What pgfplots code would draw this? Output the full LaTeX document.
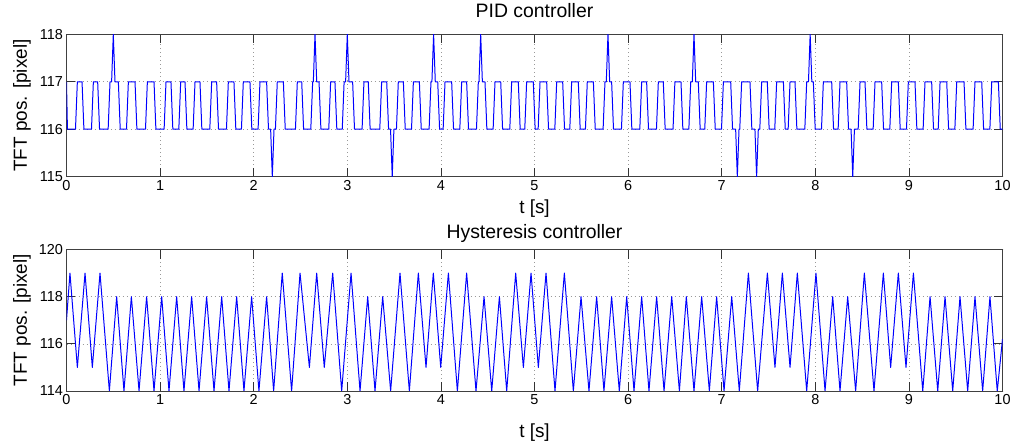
\documentclass[border=0pt]{standalone}
\usepackage{fontspec}
\setmainfont{Liberation Sans}
\usepackage{pgfplots}
\pgfplotsset{compat=1.18}
\begin{document}
\begin{tikzpicture}
\path[use as bounding box] (0,0) rectangle (1024bp,444bp);
\pgfplotsset{
  matlab/.style={
    scale only axis, width=936bp,
    xmin=0, xmax=10, xtick={0,1,...,10},
    no markers,
    grid=major,
    major grid style={gray!80, line width=0.6pt, dash pattern=on 1bp off 3bp},
    tick align=inside, major tick length=9bp,
    axis line style={black!75, line width=0.7pt},
    tick style={black!80, line width=0.7pt},
    ticklabel style={font=\fontsize{14.5}{14.5}\selectfont},
    /pgf/number format/assume math mode=true,
    label style={font=\fontsize{19}{19}\selectfont},
    title style={font=\fontsize{19.5}{19.5}\selectfont, at={(0.5,1)}, anchor=south},
    xlabel={t [s]}, ylabel={TFT pos. [pixel]},
    ylabel style={at={(axis description cs:-0.0475,0.5)}, anchor=center},
  }
}
\begin{axis}[matlab, at={(66.5bp,267.3bp)}, anchor=south west, height=142.4bp,
  ymin=115, ymax=118, ytick={115,116,117,118}, title={PID controller},
  title style={yshift=7bp},
  xlabel style={at={(axis description cs:0.5,0)}, anchor=base, yshift=-37bp}]
\addplot+[mark=none, blue, line width=1pt, line join=round] coordinates {
(0,117)(0.01,116)
(0.096,116)(0.116,117)(0.166,117)(0.186,116)
(0.267,116)(0.287,117)(0.333,117)(0.353,116)
(0.445,116)(0.465,117)(0.482,117)(0.500,118)(0.518,117)(0.554,117)(0.574,116)
(0.641,116)(0.661,117)(0.732,117)(0.752,116)
(0.844,116)(0.864,117)(0.935,117)(0.955,116)
(1.043,116)(1.063,117)(1.116,117)(1.136,116)
(1.200,116)(1.220,117)(1.266,117)(1.286,116)
(1.353,116)(1.373,117)(1.426,117)(1.446,116)
(1.531,116)(1.551,117)(1.604,117)(1.624,116)
(1.709,116)(1.729,117)(1.789,117)(1.809,116)
(1.869,116)(1.889,117)(1.960,117)(1.980,116)
(2.047,116)(2.067,117)(2.138,117)(2.158,116)
(2.181,116)(2.199,115)(2.217,116)
(2.232,116)(2.252,117)(2.317,117)(2.337,116)
(2.446,116)(2.466,117)(2.513,117)(2.533,116)
(2.610,116)(2.630,117)(2.637,117)(2.655,118)(2.673,117)(2.698,117)(2.718,116)
(2.802,116)(2.822,117)(2.868,117)(2.888,116)
(2.946,116)(2.966,117)(2.982,117)(3.000,118)(3.018,117)(3.057,117)(3.077,116)
(3.158,116)(3.178,117)(3.224,117)(3.244,116)
(3.347,116)(3.367,117)(3.421,117)(3.441,116)
(3.462,116)(3.480,115)(3.498,116)
(3.525,116)(3.545,117)(3.599,117)(3.619,116)
(3.686,116)(3.706,117)(3.770,117)(3.790,116)
(3.874,116)(3.894,117)(3.904,117)(3.922,118)(3.940,117)(3.966,117)(3.986,116)
(4.024,116)(4.044,117)(4.115,117)(4.135,116)
(4.202,116)(4.222,117)(4.275,117)(4.295,116)
(4.380,116)(4.400,117)(4.407,117)(4.425,118)(4.443,117)(4.471,117)(4.491,116)
(4.558,116)(4.578,117)(4.639,117)(4.659,116)
(4.736,116)(4.756,117)(4.827,117)(4.847,116)
(4.896,116)(4.916,117)(4.987,117)(5.007,116)
(5.039,116)(5.059,117)(5.130,117)(5.150,116)
(5.217,116)(5.237,117)(5.301,117)(5.321,116)
(5.377,116)(5.397,117)(5.468,117)(5.488,116)
(5.544,116)(5.564,117)(5.629,117)(5.649,116)
(5.733,116)(5.753,117)(5.767,117)(5.785,118)(5.803,117)(5.824,117)(5.844,116)
(5.929,116)(5.949,117)(6.020,117)(6.040,116)
(6.125,116)(6.145,117)(6.198,117)(6.218,116)
(6.303,116)(6.323,117)(6.376,117)(6.396,116)
(6.480,116)(6.500,117)(6.565,117)(6.585,116)
(6.649,116)(6.669,117)(6.686,117)(6.704,118)(6.722,117)(6.750,117)(6.770,116)
(6.819,116)(6.839,117)(6.911,117)(6.931,116)
(6.998,116)(7.018,117)(7.096,117)(7.116,116)
(7.149,116)(7.167,115)(7.185,116)
(7.193,116)(7.213,117)(7.302,117)(7.322,116)
(7.355,116)(7.373,115)(7.391,116)
(7.407,116)(7.427,117)(7.487,117)(7.507,116)
(7.567,116)(7.587,117)(7.659,117)(7.679,116)
(7.710,116)(7.730,117)(7.783,117)(7.803,116)
(7.888,116)(7.908,117)(7.927,117)(7.945,118)(7.963,117)(7.979,117)(7.999,116)
(8.066,116)(8.086,117)(8.175,117)(8.195,116)
(8.244,116)(8.264,117)(8.335,117)(8.355,116)
(8.382,116)(8.400,115)(8.418,116)
(8.458,116)(8.478,117)(8.531,117)(8.551,116)
(8.618,116)(8.638,117)(8.709,117)(8.729,116)
(8.796,116)(8.816,117)(8.887,117)(8.907,116)
(8.974,116)(8.994,117)(9.065,117)(9.085,116)
(9.152,116)(9.172,117)(9.243,117)(9.263,116)
(9.313,116)(9.333,117)(9.404,117)(9.424,116)
(9.491,116)(9.511,117)(9.589,117)(9.609,116)
(9.686,116)(9.706,117)(9.778,117)(9.798,116)
(9.865,116)(9.885,117)(9.956,117)(9.976,116)
(10,116)
};
\end{axis}
\begin{axis}[matlab, at={(66.5bp,53bp)}, anchor=south west, height=141.5bp,
  ymin=114, ymax=120, ytick={114,116,118,120}, title={Hysteresis controller},
  title style={yshift=-3bp},
  xlabel style={at={(axis description cs:0.5,0)}, anchor=base, yshift=-46bp}]
\addplot+[mark=none, blue, line width=1pt, line join=round] coordinates {
(0,117)(0.037,119)(0.116,115)(0.198,119)(0.276,115)(0.358,119)(0.458,114)(0.536,118)
(0.614,114)(0.693,118)(0.775,114)(0.856,118)(0.935,114)(1.017,118)(1.095,114)(1.177,118)
(1.255,114)(1.337,118)(1.416,114)(1.497,118)(1.576,114)(1.658,118)(1.736,114)(1.818,118)
(1.896,114)(1.978,118)(2.056,114)(2.138,118)(2.213,114)(2.305,119)(2.405,114)(2.495,119)
(2.595,115)(2.673,119)(2.754,115)(2.844,119)(2.940,114)(3.040,119)(3.136,114)(3.218,118)
(3.296,114)(3.378,118)(3.463,114)(3.563,119)(3.663,114)(3.759,119)(3.841,115)(3.919,119)
(3.998,115)(4.080,119)(4.176,114)(4.275,119)(4.375,114)(4.461,118)(4.543,114)(4.625,118)
(4.703,114)(4.799,119)(4.881,115)(4.963,119)(5.041,115)(5.123,119)(5.219,114)(5.319,119)
(5.415,114)(5.497,118)(5.582,114)(5.664,118)(5.742,114)(5.824,118)(5.906,114)(5.985,118)
(6.063,114)(6.145,118)(6.223,114)(6.305,118)(6.384,114)(6.466,118)(6.548,114)(6.622,118)
(6.704,114)(6.786,118)(6.868,114)(6.946,118)(7.025,114)(7.107,118)(7.188,114)(7.285,119)
(7.384,114)(7.488,119)(7.569,115)(7.648,119)(7.730,115)(7.808,119)(7.908,114)(8.007,119)
(8.104,114)(8.186,118)(8.264,114)(8.346,118)(8.431,114)(8.524,119)(8.627,114)(8.727,119)
(8.805,115)(8.887,119)(8.969,115)(9.048,119)(9.148,114)(9.226,118)(9.308,114)(9.386,118)
(9.468,114)(9.546,118)(9.628,114)(9.706,118)(9.788,114)(9.866,118)(9.944,114)(10,116.2)
};
\end{axis}
\end{tikzpicture}
\end{document}
